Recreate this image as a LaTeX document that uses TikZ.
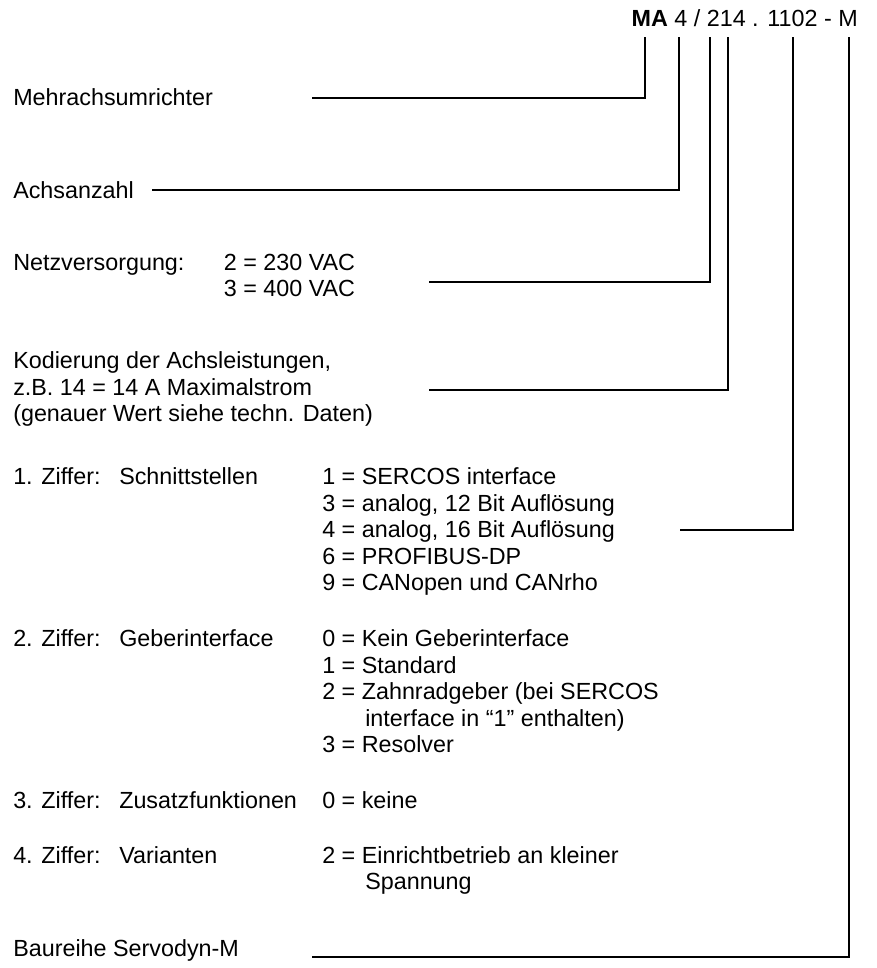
\documentclass[tikz,border=0pt]{standalone}
\usepackage{fontspec}
\setmainfont{Liberation Sans}
\begin{document}
\begin{tikzpicture}[x=0.75pt,y=-0.75pt,
  txt/.style={anchor=base west, inner sep=0pt, font=\fontsize{17.5}{21}\selectfont},
  lead/.style={line width=0.8pt, black}]
\useasboundingbox (0,0) rectangle (877,968);
% type code
\node[txt, anchor=base east] (code) at (858,26) {\textbf{MA} 4 / 214 . 1102 - M};
% left labels
\node[txt] (mehr) at (13,105) {Mehrachsumrichter};
\node[txt] (achs) at (13,198.4) {Achsanzahl};
\node[txt] (netz) at (13,270) {Netzversorgung:};
\node[txt] (netzA) at (223.6,270) {2 = 230 VAC};
\node[txt] (netzB) at (223.6,296.5) {3 = 400 VAC};
\node[txt] (kodA) at (13,368.4) {Kodierung der Achsleistungen,};
\node[txt] (kodB) at (13,395) {z.B. 14 = 14 A Maximalstrom};
\node[txt] (kodC) at (13,421.5) {(genauer Wert siehe techn. Daten)};
% 1. Ziffer
\node[txt] (zA) at (13,484.5) {1. Ziffer:};
\node[txt] (zAn) at (119,484.5) {Schnittstellen};
\node[txt] (zA1) at (322,484.5) {1 = SERCOS interface};
\node[txt] (zA2) at (322,511) {3 = analog, 12 Bit Auflösung};
\node[txt] (zA3) at (322,537.5) {4 = analog, 16 Bit Auflösung};
\node[txt] (zA4) at (322,564) {6 = PROFIBUS-DP};
\node[txt] (zA5) at (322,590.5) {9 = CANopen und CANrho};
% 2. Ziffer
\node[txt] (zB) at (13,646.5) {2. Ziffer:};
\node[txt] (zBn) at (119,646.5) {Geberinterface};
\node[txt] (zB1) at (322,646.5) {0 = Kein Geberinterface};
\node[txt] (zB2) at (322,673) {1 = Standard};
\node[txt] (zB3) at (322,699.5) {2 = Zahnradgeber (bei SERCOS};
\node[txt] (zB4) at (365,726) {interface in “1” enthalten)};
\node[txt] (zB5) at (322,752.5) {3 = Resolver};
% 3. Ziffer
\node[txt] (zC) at (13,808.5) {3. Ziffer:};
\node[txt] (zCn) at (119,808.5) {Zusatzfunktionen};
\node[txt] (zC1) at (322,808.5) {0 = keine};
% 4. Ziffer
\node[txt] (zD) at (13,863) {4. Ziffer:};
\node[txt] (zDn) at (119,863) {Varianten};
\node[txt] (zD1) at (322,863) {2 = Einrichtbetrieb an kleiner};
\node[txt] (zD2) at (365,889.5) {Spannung};
% series
\node[txt] (bau) at (13,956) {Baureihe Servodyn-M};
% connector tops
\coordinate (tMA) at (645,37);
\coordinate (tAx) at (679,37);
\coordinate (tNe) at (710,37);
\coordinate (tKo) at (728,37);
\coordinate (tZi) at (793,37);
\coordinate (tBa) at (849,37);
% connector free ends
\coordinate (eMA) at (312,98);
\coordinate (eAx) at (152,190);
\coordinate (eNe) at (429,282);
\coordinate (eKo) at (429,390);
\coordinate (eZi) at (680,530);
\coordinate (eBa) at (312,957);
\draw[lead] (tMA) |- (eMA);
\draw[lead] (tAx) |- (eAx);
\draw[lead] (tNe) |- (eNe);
\draw[lead] (tKo) |- (eKo);
\draw[lead] (tZi) |- (eZi);
\draw[lead] (tBa) |- (eBa);
\end{tikzpicture}
\end{document}
